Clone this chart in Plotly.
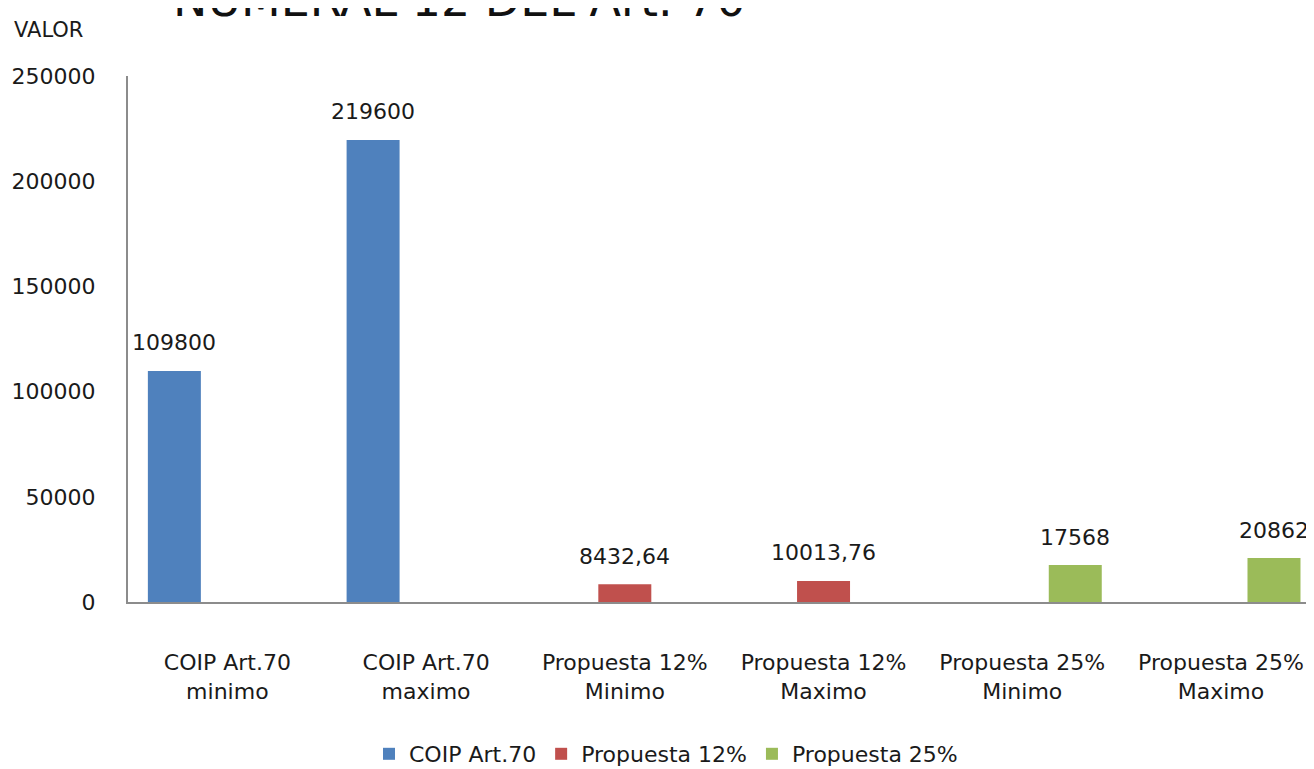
import plotly.graph_objects as go

categories = ["COIP Art.70<br>minimo", "COIP Art.70<br>maximo",
              "Propuesta 12%<br>Minimo", "Propuesta 12%<br>Maximo",
              "Propuesta 25%<br>Minimo", "Propuesta 25%<br>Maximo"]
series_names = ["COIP Art.70", "Propuesta 12%", "Propuesta 25%"]
coip = [109800, 219600, None, None, None, None]
prop12 = [None, None, 8432.64, 10013.76, None, None]
prop25 = [None, None, None, None, 17568, 20862]
labels_coip = ["109800", "219600", None, None, None, None]
labels_12 = [None, None, "8432,64", "10013,76", None, None]
labels_25 = [None, None, None, None, "17568", "20862"]
y_ticks = [0, 50000, 100000, 150000, 200000, 250000]

colors = ["#4F81BD", "#C0504D", "#9BBB59"]
FONT = "DejaVu Sans"
TXT = "#1a1a1a"

values = [coip, prop12, prop25]
labels = [labels_coip, labels_12, labels_25]

# page has an 8px body margin: figure coords = page coords - 8
W, H = 1306, 761
L, T = 120, 68
PLOT_H = 526
PLOT_W = W - L

fig = go.Figure()
for name, vals, col in zip(series_names, values, colors):
    fig.add_trace(go.Bar(x=list(range(len(categories))), y=vals, name=name,
                         marker=dict(color=col, line=dict(width=0))))

bargap = 0.2
nser = len(series_names)
bw = (1 - bargap) / nser
for si, (vals, labs) in enumerate(zip(values, labels)):
    for ci, (v, t) in enumerate(zip(vals, labs)):
        if v is None:
            continue
        fig.add_annotation(x=ci + (si - (nser - 1) / 2) * bw, y=v, xref="x", yref="y",
                           text=t, showarrow=False, yanchor="middle", yshift=28,
                           font=dict(family=FONT, size=22, color=TXT))

fig.add_annotation(text="NUMERAL 12 DEL Art. 70", xref="paper", yref="paper",
                   x=(459 - 128) / PLOT_W, y=1 + 76 / PLOT_H, xanchor="center", yanchor="middle",
                   showarrow=False, font=dict(family=FONT, size=46, color="#111111"))
fig.add_annotation(text="VALOR", xref="paper", yref="paper",
                   x=(12 - 128) / PLOT_W, y=1 + (76 - 30) / PLOT_H, xanchor="left", yanchor="middle",
                   showarrow=False, font=dict(family=FONT, size=21, color=TXT))

fig.update_layout(
    width=W, height=H,
    margin=dict(l=L, r=0, t=T, b=H - T - PLOT_H, autoexpand=False),
    paper_bgcolor="white", plot_bgcolor="white",
    barmode="group", bargap=bargap, bargroupgap=0,
    showlegend=True,
    legend=dict(orientation="h", x=(666 - 128) / PLOT_W, xanchor="center",
                y=(602 - 754) / PLOT_H, yanchor="middle",
                font=dict(family=FONT, size=22, color=TXT), traceorder="normal"),
    font=dict(family=FONT, color=TXT),
)
fig.update_xaxes(tickmode="array", tickvals=list(range(len(categories))), ticktext=categories,
                 range=[-0.5, 5.468], showline=True, linecolor="#8c8c8c", linewidth=2,
                 ticks="", showgrid=False, zeroline=False, ticklabelstandoff=40,
                 tickfont=dict(family=FONT, size=22, color=TXT))
fig.update_yaxes(range=[0, 250000], tickvals=y_ticks, ticktext=[str(v) for v in y_ticks],
                 showline=True, linecolor="#8c8c8c", linewidth=2, ticks="", showgrid=False,
                 zeroline=False, ticklabelstandoff=26,
                 tickfont=dict(family=FONT, size=22, color=TXT))

fig.write_html("out.html")
